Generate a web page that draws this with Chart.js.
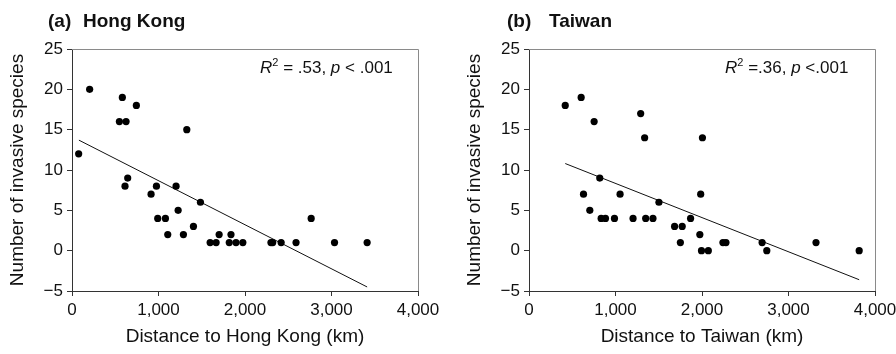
<!DOCTYPE html>
<html>
<head>
<meta charset="utf-8">
<script src="https://cdn.jsdelivr.net/npm/chart.js@4.4.1/dist/chart.umd.min.js"></script>
<style>
  body { margin: 0; width: 896px; height: 354px; overflow: hidden; background: #fff; position: relative;
         font-family: "Liberation Sans", Arial, sans-serif; color: #111; }
  canvas { position: absolute; top: 0; }
  .title { position: absolute; top: 10px; font-weight: bold; font-size: 19px; line-height: 22px; white-space: nowrap; }
  .note { position: absolute; top: 58px; font-size: 17px; line-height: 20px; white-space: nowrap; }
  .note sup { font-size: 11px; vertical-align: 7px; line-height: 0; }
</style>
</head>
<body>
<canvas id="hk" width="448" height="354" style="left:0"></canvas>
<canvas id="tw" width="448" height="354" style="left:457px"></canvas>

<div class="title" style="left:48px">(a)</div>
<div class="title" style="left:83px">Hong Kong</div>
<div class="title" style="left:507px">(b)</div>
<div class="title" style="left:549px">Taiwan</div>
<div class="note" style="left:260px"><i>R</i><sup>2</sup> = .53, <i>p</i> &lt; .001</div>
<div class="note" style="left:725px"><i>R</i><sup>2</sup> =.36, <i>p</i> &lt;.001</div>

<script>
// (a) Hong Kong - distance (km) vs number of invasive species
const hkDistance = [77, 204, 582, 548, 625, 744, 1327, 613, 644, 914, 976, 991, 1080, 1107, 1203,
  1227, 1288, 1404, 1485, 1597, 1666, 1701, 1838, 1818, 1896, 1975, 2300, 2320, 2418, 2590, 2765, 3035, 3412];
const hkSpecies = [12, 20, 19, 16, 16, 18, 15, 8, 9, 7, 8, 4, 4, 2, 8,
  5, 2, 3, 6, 1, 1, 2, 2, 1, 1, 1, 1, 1, 1, 1, 4, 1, 1];
const hkFitX = [80, 3412];
const hkFitY = [13.7, -4.5];

// (b) Taiwan
const twDistance = [419, 603, 753, 1291, 1337, 2005, 1985, 818, 630, 703, 834, 884, 988, 1053, 1203,
  1349, 1433, 1502, 1683, 1771, 1750, 1868, 1975, 1994, 2073, 2242, 2277, 2695, 2749, 3318, 3817];
const twSpecies = [18, 19, 16, 17, 14, 14, 7, 9, 7, 5, 4, 4, 4, 7, 4,
  4, 4, 6, 3, 3, 1, 4, 2, 0, 0, 1, 1, 1, 0, 1, 0];
const twFitX = [419, 3817];
const twFitY = [10.8, -3.6];

const textColor = '#111';
const axisColor = '#333';
const fontFamily = '"Liberation Sans", Arial, sans-serif';

const framePlugin = {
  id: 'frame',
  afterDraw(chart) {
    const a = chart.chartArea, ctx = chart.ctx;
    ctx.save();
    ctx.strokeStyle = '#8a8a8a';
    ctx.lineWidth = 1;
    ctx.beginPath();
    ctx.moveTo(a.left, a.top + 0.5);
    ctx.lineTo(a.right + 0.5, a.top + 0.5);
    ctx.lineTo(a.right + 0.5, a.bottom);
    ctx.stroke();
    ctx.restore();
  }
};

function makePanel(id, xs, ys, fitX, fitY, xTitle) {
  const points = xs.map((x, i) => ({ x: x, y: ys[i] }));
  const fit = fitX.map((x, i) => ({ x: x, y: fitY[i] }));
  return new Chart(document.getElementById(id), {
    type: 'scatter',
    data: {
      datasets: [
        {
          data: points,
          backgroundColor: '#000',
          borderWidth: 0,
          pointRadius: 3.6
        },
        {
          type: 'line',
          data: fit,
          borderColor: '#111',
          borderWidth: 1,
          pointRadius: 0,
          fill: false
        }
      ]
    },
    options: {
      responsive: false,
      animation: false,
      layout: { padding: { top: 49, right: 30, bottom: 0, left: 0 } },
      plugins: { legend: { display: false }, tooltip: { enabled: false } },
      scales: {
        x: {
          type: 'linear',
          min: 0,
          max: 4000,
          ticks: {
            stepSize: 1000,
            color: textColor,
            font: { family: fontFamily, size: 17 },
            padding: 4,
            callback: v => v.toLocaleString('en-US')
          },
          grid: { drawOnChartArea: false, drawTicks: true, tickLength: 5, color: axisColor },
          border: { color: axisColor, width: 1 },
          title: { display: true, text: xTitle, color: textColor, font: { family: fontFamily, size: 19 }, padding: { top: 0, bottom: 6 } },
          afterFit: s => { s.height = 63; }
        },
        y: {
          min: -5,
          max: 25,
          ticks: {
            stepSize: 5,
            color: textColor,
            font: { family: fontFamily, size: 17 },
            padding: 4,
            callback: v => String(v).replace('-', '\u2212')
          },
          grid: { drawOnChartArea: false, drawTicks: true, tickLength: 5, color: axisColor },
          border: { color: axisColor, width: 1 },
          title: { display: true, text: 'Number of invasive species', color: textColor, font: { family: fontFamily, size: 19 }, padding: { top: 6, bottom: 0 } },
          afterFit: s => { s.width = 72; }
        }
      }
    },
    plugins: [framePlugin]
  });
}

makePanel('hk', hkDistance, hkSpecies, hkFitX, hkFitY, 'Distance to Hong Kong (km)');
makePanel('tw', twDistance, twSpecies, twFitX, twFitY, 'Distance to Taiwan (km)');
</script>
</body>
</html>
